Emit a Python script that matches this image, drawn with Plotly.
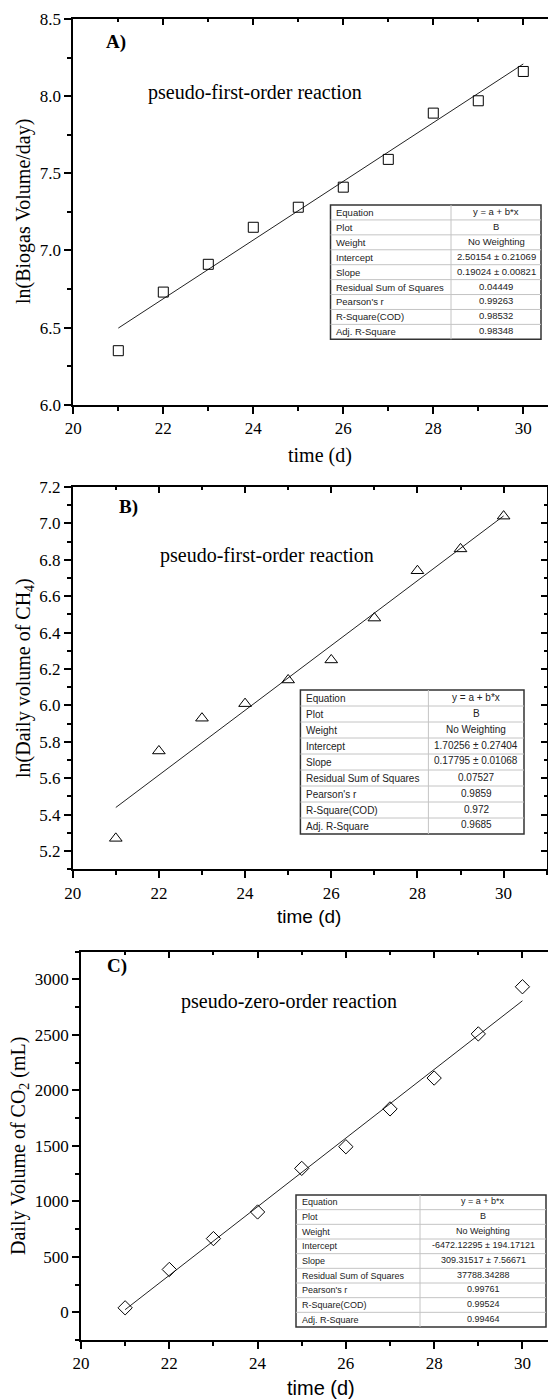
import plotly.graph_objects as go

W, H = 556, 1400
# the page body adds an 8px offset; place everything relative to the visible window
OFF = 8

# ---------------- data ----------------
days = [21, 22, 23, 24, 25, 26, 27, 28, 29, 30]
ln_biogas = [6.35, 6.73, 6.91, 7.15, 7.28, 7.41, 7.59, 7.89, 7.97, 8.16]
ln_ch4 = [5.27, 5.75, 5.93, 6.01, 6.14, 6.25, 6.48, 6.74, 6.86, 7.04]
co2_ml = [40, 386, 664, 904, 1297, 1492, 1833, 2111, 2509, 2934]

intercept_A, slope_A = 2.50154, 0.19024
intercept_B, slope_B = 1.70256, 0.17795
intercept_C, slope_C = -6472.12295, 309.31517

table_keys = ["Equation", "Plot", "Weight", "Intercept", "Slope",
              "Residual Sum of Squares", "Pearson's r", "R-Square(COD)", "Adj. R-Square"]
table_vals_A = ["y = a + b*x", "B", "No Weighting", "2.50154 ± 0.21069", "0.19024 ± 0.00821",
                "0.04449", "0.99263", "0.98532", "0.98348"]
table_vals_B = ["y = a + b*x", "B", "No Weighting", "1.70256 ± 0.27404", "0.17795 ± 0.01068",
                "0.07527", "0.9859", "0.972", "0.9685"]
table_vals_C = ["y = a + b*x", "B", "No Weighting", "-6472.12295 ± 194.17121", "309.31517 ± 7.56671",
                "37788.34288", "0.99761", "0.99524", "0.99464"]

# ---------------- helpers ----------------
def fx(p):
    return (p - OFF) / W

def fy(p):
    return 1 - (p - OFF) / H

SERIF = "Liberation Serif"
SANS = "Liberation Sans"
AXW = 1.8

panels = [
    dict(x="x", y="y", left=73.3, right=556, top=19, bottom=404.7,
         xr=[20, 30.727], yr=[6.0, 8.5], ydt=0.5, ymin=0.25, yt0=6.0, yfmt=".1f",
         ydata=ln_biogas, a=intercept_A, b=slope_A, sym="square-open", msize=10,
         topx="x4", righty=None, right_line=False),
    dict(x="x2", y="y2", left=72.7, right=546.7, top=487, bottom=869.3,
         xr=[20, 31], yr=[5.1, 7.2], ydt=0.2, ymin=0.1, yt0=5.2, yfmt=".1f",
         ydata=ln_ch4, a=intercept_B, b=slope_B, sym="triangle-up-open", msize=11,
         topx="x5", righty="y4", right_line=True),
    dict(x="x3", y="y3", left=81, right=556, top=951.7, bottom=1340,
         xr=[20, 30.76], yr=[-250, 3250], ydt=500, ymin=250, yt0=0, yfmt="d",
         ydata=co2_ml, a=intercept_C, b=slope_C, sym="diamond-open", msize=11,
         topx="x6", righty="y5", right_line=False),
]

fig = go.Figure()
layout = dict(width=W, height=H, margin=dict(l=0, r=0, t=0, b=0, pad=0, autoexpand=False),
              paper_bgcolor="white", plot_bgcolor="white", showlegend=False)

tickfont = dict(family=SERIF, size=17, color="black")

for p in panels:
    xid, yid = p["x"], p["y"]
    xkey = "xaxis" + xid[1:]
    ykey = "yaxis" + yid[1:]
    xdom = [fx(p["left"]), min(1.0, fx(p["right"] + OFF) if p["right"] >= 556 else fx(p["right"]))]
    ydom = [fy(p["bottom"]), fy(p["top"])]
    xr = list(p["xr"])
    if p["right"] >= 556:
        # extend range proportionally to the extra 8 px of paper beyond the window edge
        span = (xr[1] - xr[0]) / (p["right"] - p["left"])
        xr[1] = xr[0] + span * (xdom[1] * W + OFF - p["left"])
    layout[xkey] = dict(domain=xdom, anchor=yid, range=xr, showline=True, linecolor="black",
                        linewidth=AXW, ticks="outside", ticklen=7, tickwidth=1.5, tickcolor="black",
                        tick0=20, dtick=2, showgrid=False, zeroline=False, tickfont=tickfont,
                        automargin=False,
                        minor=dict(dtick=1, tick0=20, ticks="outside", ticklen=4, tickwidth=1.5,
                                   tickcolor="black", showgrid=False))
    layout[ykey] = dict(domain=ydom, anchor=xid, range=p["yr"], showline=True, linecolor="black",
                        linewidth=AXW, ticks="outside", ticklen=7, tickwidth=1.5, tickcolor="black",
                        tick0=p["yt0"], dtick=p["ydt"], tickformat=p["yfmt"], showgrid=False,
                        zeroline=False, tickfont=tickfont, automargin=False,
                        minor=dict(dtick=p["ymin"], ticks="outside", ticklen=4, tickwidth=1.5,
                                   tickcolor="black", showgrid=False))
    tk = "xaxis" + p["topx"][1:]
    layout[tk] = dict(overlaying=xid, anchor=yid, side="top", range=xr, showline=True,
                      linecolor="black", linewidth=AXW, ticks="inside", ticklen=6, tickwidth=1.5,
                      tickcolor="black", tick0=20, dtick=2, showticklabels=False, showgrid=False,
                      zeroline=False, automargin=False,
                      minor=dict(dtick=1, tick0=20, ticks="inside", ticklen=3, tickwidth=1.5,
                                 tickcolor="black", showgrid=False))
    if p["righty"]:
        rk = "yaxis" + p["righty"][1:]
        layout[rk] = dict(overlaying=yid, anchor=xid, side="right", range=p["yr"],
                          showline=p["right_line"], linecolor="black", linewidth=AXW,
                          ticks="inside", ticklen=6 if p["right_line"] else 14, tickwidth=1.5,
                          tickcolor="black",
                          tick0=p["yt0"], dtick=p["ydt"], showticklabels=False, showgrid=False,
                          zeroline=False, automargin=False,
                          minor=dict(dtick=p["ymin"], ticks="inside",
                                     ticklen=3 if p["right_line"] else 0, tickwidth=1.5,
                                     tickcolor="black", showgrid=False))
        fig.add_trace(go.Scatter(x=[], y=[], xaxis=xid, yaxis=p["righty"], hoverinfo="skip"))
    fig.add_trace(go.Scatter(x=[], y=[], xaxis=p["topx"], yaxis=yid, hoverinfo="skip"))

    fit = [p["a"] + p["b"] * d for d in days]
    fig.add_trace(go.Scatter(x=days, y=fit, mode="lines", xaxis=xid, yaxis=yid,
                             line=dict(color="#222222", width=1)))
    fig.add_trace(go.Scatter(x=days, y=p["ydata"], mode="markers", xaxis=xid, yaxis=yid,
                             marker=dict(symbol=p["sym"], size=p["msize"], color="black",
                                         line=dict(color="black", width=1))))

fig.update_layout(**layout)

# ---------------- text ----------------
ann = []

def add_text(text, x, y, font, angle=0, xanchor="center"):
    ann.append(dict(text=text, x=fx(x), y=fy(y), xref="paper", yref="paper", showarrow=False,
                    xanchor=xanchor, yanchor="middle", textangle=angle, font=font))

lab = dict(family=SERIF, size=19, color="black", weight="bold")
add_text("A)", 116, 42, lab)
add_text("B)", 128.5, 507, lab)
add_text("C)", 117, 966, lab)

rx = dict(family=SERIF, size=20, color="black")
add_text("pseudo-first-order reaction", 255, 92, rx)
add_text("pseudo-first-order reaction", 266.5, 555, rx)
add_text("pseudo-zero-order reaction", 289, 1001, rx)

add_text("time (d)", 320, 455, dict(family=SERIF, size=20, color="black"))
add_text("time (d)", 309, 916, dict(family=SANS, size=19, color="black"))
add_text("time (d)", 321, 1388, dict(family=SANS, size=20, color="black"))

add_text("ln(Biogas Volume/day)", 24, 212, dict(family=SERIF, size=20, color="black"), -90)
add_text("ln(Daily volume of CH<sub>4</sub>)", 24, 678, dict(family=SERIF, size=20, color="black"), -90)
add_text("Daily Volume of CO<sub>2</sub> (mL)", 19, 1146, dict(family=SERIF, size=20, color="black"), -90)

# ---------------- fit tables (shapes + text) ----------------
tables = [
    dict(vals=table_vals_A, l=330.5, m=451, r=541, t=205, b=339.3, fs=9.5),
    dict(vals=table_vals_B, l=300.4, m=428.4, r=524, t=690, b=834, fs=10),
    dict(vals=table_vals_C, l=296, m=420, r=546, t=1195, b=1327, fs=9),
]
shapes = []
for tb in tables:
    n = len(table_keys)
    rh = (tb["b"] - tb["t"]) / n
    cellfont = dict(family=SANS, size=tb["fs"], color="#222222")
    shapes.append(dict(type="rect", xref="paper", yref="paper", x0=fx(tb["l"]), x1=fx(tb["r"]),
                       y0=fy(tb["b"]), y1=fy(tb["t"]), fillcolor="white",
                       line=dict(color="#333333", width=1.5), layer="above"))
    for i in range(1, n):
        yy = tb["t"] + i * rh
        shapes.append(dict(type="line", xref="paper", yref="paper", x0=fx(tb["l"]), x1=fx(tb["r"]),
                           y0=fy(yy), y1=fy(yy), line=dict(color="#c4c4c4", width=1), layer="above"))
    shapes.append(dict(type="line", xref="paper", yref="paper", x0=fx(tb["m"]), x1=fx(tb["m"]),
                       y0=fy(tb["b"]), y1=fy(tb["t"]), line=dict(color="#c4c4c4", width=1),
                       layer="above"))
    for i, (k, v) in enumerate(zip(table_keys, tb["vals"])):
        yc = tb["t"] + (i + 0.5) * rh
        add_text(k, tb["l"] + 3.5, yc, cellfont, xanchor="left")
        add_text(v, (tb["m"] + tb["r"]) / 2, yc - 1, cellfont)

fig.update_layout(annotations=ann, shapes=shapes)

fig.write_html("out.html")
